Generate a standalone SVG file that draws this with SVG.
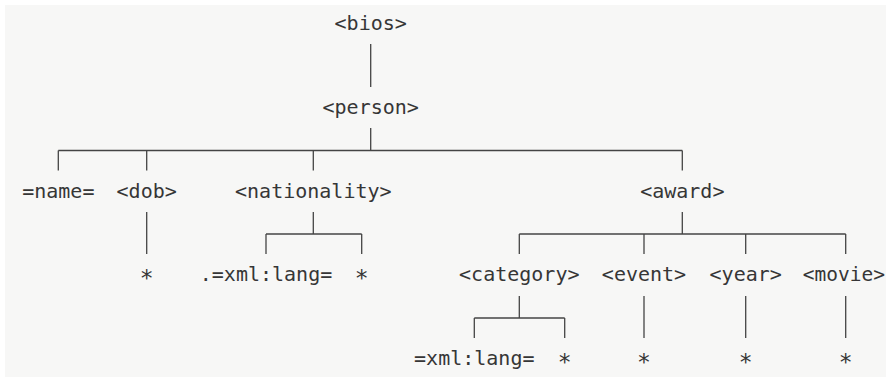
<svg xmlns="http://www.w3.org/2000/svg" width="886" height="378" viewBox="0 0 886 378">
<style>
.t{font-family:"DejaVu Sans Mono","Liberation Mono",monospace;font-size:20px;fill:#363636;text-anchor:middle}
.s{font-family:"DejaVu Sans Mono","Liberation Mono",monospace;font-size:23px;fill:#363636;text-anchor:middle}
.c line{stroke:#444;stroke-width:1.3;fill:none}
</style>
<rect x="0" y="0" width="886" height="378" fill="#ffffff"/>
<rect x="5" y="5" width="881" height="372" fill="#f7f7f6"/>
<g class="c" id="connectors">
<line x1="370.7" y1="44" x2="370.7" y2="87"/>
<line x1="370.7" y1="128" x2="370.7" y2="150.5"/>
<line x1="58.3" y1="150.5" x2="682.3" y2="150.5"/>
<line x1="58.3" y1="150.5" x2="58.3" y2="170.5"/>
<line x1="146.7" y1="150.5" x2="146.7" y2="170.5"/>
<line x1="313.3" y1="150.5" x2="313.3" y2="170.5"/>
<line x1="682.3" y1="150.5" x2="682.3" y2="170.5"/>
<line x1="146.7" y1="212" x2="146.7" y2="254"/>
<line x1="313.3" y1="212" x2="313.3" y2="234"/>
<line x1="266" y1="234" x2="361.7" y2="234"/>
<line x1="266" y1="234" x2="266" y2="254"/>
<line x1="361.7" y1="234" x2="361.7" y2="254"/>
<line x1="682.3" y1="212" x2="682.3" y2="234"/>
<line x1="519.3" y1="234" x2="845.7" y2="234"/>
<line x1="519.3" y1="234" x2="519.3" y2="254"/>
<line x1="644" y1="234" x2="644" y2="254"/>
<line x1="745.7" y1="234" x2="745.7" y2="254"/>
<line x1="845.7" y1="234" x2="845.7" y2="254"/>
<line x1="519.3" y1="296" x2="519.3" y2="318"/>
<line x1="474.3" y1="318" x2="564.7" y2="318"/>
<line x1="474.3" y1="318" x2="474.3" y2="338"/>
<line x1="564.7" y1="318" x2="564.7" y2="338"/>
<line x1="644" y1="296" x2="644" y2="338"/>
<line x1="745.7" y1="296" x2="745.7" y2="338"/>
<line x1="845.7" y1="296" x2="845.7" y2="338"/>
</g>
<g id="bios"><text class="t" x="370.7" y="30">&lt;bios&gt;</text></g>
<g id="person"><text class="t" x="370.7" y="114">&lt;person&gt;</text></g>
<g id="name"><text class="t" x="58.3" y="197.5">=name=</text></g>
<g id="dob"><text class="t" x="146.7" y="197.5">&lt;dob&gt;</text></g>
<g id="nationality"><text class="t" x="313.3" y="197.5">&lt;nationality&gt;</text></g>
<g id="award"><text class="t" x="682.3" y="197.5">&lt;award&gt;</text></g>
<g id="dob-text"><text class="s" x="146.7" y="286">*</text></g>
<g id="nat-lang"><text class="t" x="266" y="281">.=xml:lang=</text></g>
<g id="nat-text"><text class="s" x="361.7" y="286">*</text></g>
<g id="category"><text class="t" x="519.3" y="281">&lt;category&gt;</text></g>
<g id="event"><text class="t" x="644" y="281">&lt;event&gt;</text></g>
<g id="year"><text class="t" x="745.7" y="281">&lt;year&gt;</text></g>
<g id="movie"><text class="t" x="843.8" y="281" style="font-size:19.5px">&lt;movie&gt;</text></g>
<g id="cat-lang"><text class="t" x="474.3" y="365">=xml:lang=</text></g>
<g id="cat-text"><text class="s" x="564.7" y="370">*</text></g>
<g id="event-text"><text class="s" x="644" y="370">*</text></g>
<g id="year-text"><text class="s" x="745.7" y="370">*</text></g>
<g id="movie-text"><text class="s" x="845.7" y="370">*</text></g>
</svg>
